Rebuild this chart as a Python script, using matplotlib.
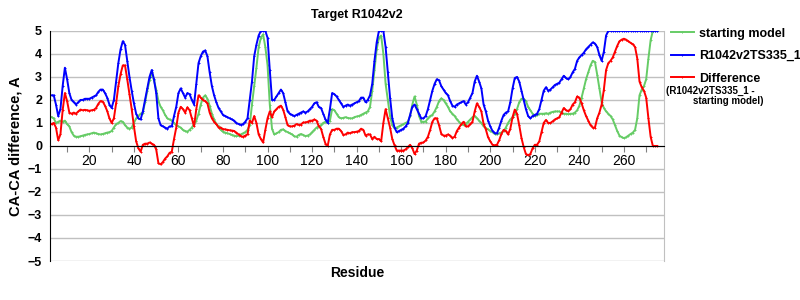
import numpy as np
import matplotlib
matplotlib.use("Agg")
import matplotlib.pyplot as plt

plt.rcParams['font.family'] = ['Liberation Sans', 'DejaVu Sans']

# residues 3..275
first_res = 3
last_res = 275

# R1042v2TS335_1 (capped at 5 A)
model = [
    2.2, 2.2, 1.8, 1.3, 1.6, 2.6, 3.4, 2.9, 2.3, 2.0,        # 3-12
    1.9, 1.8, 1.9, 2.0, 2.0, 2.05, 2.05, 2.05, 2.1, 2.15,    # 13-22
    2.2, 2.35, 2.45, 2.45, 2.3, 2.1, 1.8, 1.65, 2.0, 2.8,    # 23-32
    3.6, 4.2, 4.55, 4.4, 3.7, 3.0, 2.4, 1.85, 1.4, 1.2,      # 33-42
    1.15, 1.5, 2.0, 2.5, 3.0, 3.3, 2.9, 2.3, 1.2, 0.9,       # 43-52
    0.85, 0.8, 0.75, 0.85, 0.85, 1.3, 1.7, 2.3, 2.5, 2.3,    # 53-62
    2.1, 2.3, 2.25, 2.0, 1.8, 2.7, 3.6, 3.9, 4.1, 4.15,      # 63-72
    3.9, 3.2, 2.6, 2.2, 1.9, 1.65, 1.5, 1.35, 1.3, 1.25,     # 73-82
    1.2, 1.15, 1.1, 1.0, 0.95, 0.92, 0.95, 1.05, 1.2, 2.0,   # 83-92
    2.8, 3.9, 4.4, 4.8, 5.0, 5.0, 5.0, 4.7, 3.3, 2.0,        # 93-102
    2.0, 2.15, 2.3, 2.45, 2.3, 1.9, 1.5, 1.4, 1.35, 1.3,     # 103-112
    1.35, 1.4, 1.45, 1.5, 1.45, 1.5, 1.6, 1.7, 1.85, 1.9,    # 113-122
    1.7, 1.65, 1.4, 1.15, 1.0, 1.6, 2.3, 2.25, 2.15, 2.0,    # 123-132
    1.85, 1.7, 1.75, 1.8, 1.75, 1.8, 1.85, 1.9, 1.95, 2.1,   # 133-142
    2.1, 1.9, 2.0, 2.2, 2.7, 3.7, 4.5, 5.0, 5.0, 5.0,        # 143-152
    4.3, 3.2, 2.1, 1.2, 0.8, 0.6, 0.65, 0.7, 0.75, 0.85,     # 153-162
    1.0, 1.35, 1.7, 1.8, 1.6, 1.4, 1.2, 1.2, 1.3, 1.6,       # 163-172
    2.0, 2.4, 2.7, 2.9, 2.85, 2.6, 2.45, 2.3, 2.2, 1.95,     # 173-182
    1.75, 1.7, 1.8, 1.85, 1.9, 1.95, 1.8, 1.9, 2.1, 2.3,     # 183-192
    2.8, 3.05, 2.8, 2.5, 1.8, 1.5, 1.1, 0.85, 0.65, 0.55,    # 193-202
    0.55, 0.8, 1.1, 1.35, 1.45, 1.5, 1.9, 2.5, 2.95, 3.0,    # 203-212
    2.8, 2.4, 2.0, 1.6, 1.3, 1.2, 1.3, 1.35, 1.4, 1.6,       # 213-222
    2.0, 2.4, 2.55, 2.4, 2.45, 2.55, 2.65, 2.7, 2.75, 2.9,   # 223-232
    3.05, 2.95, 2.9, 3.0, 3.2, 3.35, 3.7, 3.85, 3.95, 4.05,  # 233-242
    4.2, 4.3, 4.4, 4.5, 4.45, 4.3, 3.95, 3.7, 4.1, 4.8,      # 243-252
    5.0, 5.0, 5.0, 5.0, 5.0, 5.0, 5.0, 5.0, 5.0, 5.0,        # 253-262
    5.0, 5.0, 5.0, 5.0, 5.0, 5.0, 5.0, 5.0, 5.0, 5.0,        # 263-272
    5.0, 5.0, 5.0,                                           # 273-275
]

# starting model (capped at 5 A)
start = [
    1.25, 1.2, 1.0, 1.05, 1.1, 1.05, 1.1, 0.95, 0.85, 0.6,   # 3-12
    0.45, 0.4, 0.4, 0.42, 0.45, 0.48, 0.5, 0.52, 0.55, 0.58, # 13-22
    0.55, 0.52, 0.5, 0.52, 0.55, 0.58, 0.6, 0.65, 0.8, 0.95, # 23-32
    1.0, 1.08, 1.05, 0.9, 0.8, 0.75, 0.8, 1.0, 1.2, 1.3,     # 33-42
    1.4, 1.45, 1.9, 2.4, 2.85, 3.2, 2.85, 2.45, 1.95, 1.7,   # 43-52
    1.55, 1.35, 1.2, 1.15, 1.1, 1.0, 0.9, 0.85, 0.8, 0.7,    # 53-62
    0.65, 0.62, 0.7, 0.8, 0.95, 1.1, 1.4, 1.8, 2.1, 2.2,     # 63-72
    2.05, 1.75, 1.4, 1.15, 0.95, 0.85, 0.7, 0.62, 0.58, 0.55,  # 73-82
    0.52, 0.48, 0.45, 0.42, 0.45, 0.5, 0.55, 0.6, 0.7, 0.9,  # 83-92
    1.8, 2.6, 3.4, 4.3, 4.7, 4.85, 4.3, 3.5, 1.8, 0.75,      # 93-102
    0.5, 0.55, 0.6, 0.7, 0.72, 0.65, 0.6, 0.55, 0.5, 0.42,   # 103-112
    0.4, 0.48, 0.52, 0.48, 0.43, 0.45, 0.5, 0.6, 0.7, 0.8,   # 113-122
    0.85, 0.9, 1.0, 1.05, 1.0, 1.1, 1.6, 1.55, 1.4, 1.25,    # 123-132
    1.2, 1.22, 1.25, 1.22, 1.2, 1.2, 1.25, 1.28, 1.3, 1.35,  # 133-142
    1.4, 1.45, 1.5, 1.7, 2.4, 3.3, 4.2, 4.7, 4.8, 4.0,       # 143-152
    2.7, 2.0, 1.3, 0.9, 0.77, 0.8, 0.85, 0.9, 0.95, 1.0,     # 153-162
    1.05, 1.3, 1.8, 2.15, 1.8, 1.3, 1.06, 1.05, 1.06, 1.2,   # 163-172
    1.3, 1.35, 1.5, 1.7, 1.95, 2.07, 2.0, 1.85, 1.7, 1.5,    # 173-182
    1.4, 1.3, 1.15, 1.05, 0.95, 0.9, 0.95, 1.05, 1.15, 1.25, # 183-192
    1.3, 1.2, 1.1, 1.0, 0.85, 0.78, 0.72, 0.65, 0.6, 0.52,   # 193-202
    0.5, 0.55, 0.58, 0.65, 0.8, 1.0, 1.15, 1.25, 1.37, 1.6,  # 203-212
    1.9, 2.05, 2.05, 1.95, 1.7, 1.55, 1.4, 1.3, 1.35, 1.4,   # 213-222
    1.4, 1.4, 1.42, 1.4, 1.45, 1.48, 1.5, 1.5, 1.5, 1.45,    # 223-232
    1.4, 1.4, 1.38, 1.4, 1.4, 1.45, 1.55, 1.75, 2.1, 2.5,    # 233-242
    2.9, 3.2, 3.5, 3.7, 3.65, 3.1, 2.5, 1.9, 1.65, 1.5,      # 243-252
    1.4, 1.3, 1.15, 0.9, 0.65, 0.45, 0.38, 0.34, 0.38, 0.45, # 253-262
    0.52, 0.58, 0.7, 1.2, 2.2, 2.45, 2.6, 2.9, 3.8, 4.6,     # 263-272
    5.0, 5.0, 5.0,                                           # 273-275
]

residues = np.arange(first_res, last_res + 1)
model = np.array(model)
start = np.array(start)
diff = model - start

fig = plt.figure(figsize=(8, 3), dpi=100)
ax = fig.add_axes([0.063, 0.13, 0.767, 0.767])

green = '#66cc66'
blue = '#0000ff'
red = '#ff0000'
mk = dict(marker='+', markersize=2, markeredgewidth=0.7)

ax.plot(residues, start, color=green, lw=1.4, label='starting model', **mk)
ax.plot(residues, model, color=blue, lw=1.4, label='R1042v2TS335_1', **mk)
ax.plot(residues, diff, color=red, lw=1.4, label='Difference', **mk)

ax.set_xlim(2.5, 278)
ax.set_ylim(-5, 5)
ax.set_yticks(range(-5, 6))
ax.yaxis.grid(True, color='#c0c0c0', lw=1)
ax.set_axisbelow(True)
ax.tick_params(axis='y', length=0, pad=6, labelsize=9)
for t in ax.get_yticklabels():
    t.set_fontweight('bold')

xt = list(range(10, 278, 10))
ax.set_xticks(xt)
ax.set_xticklabels([str(v) if v % 20 == 0 else '' for v in xt],
                   fontweight='bold', fontsize=9)
ax.tick_params(axis='x', direction='out', length=4, color='#808080', pad=2)

ax.spines['bottom'].set_position(('data', 0))
ax.spines['bottom'].set_color('black')
ax.spines['left'].set_color('black')
ax.spines['top'].set_visible(False)
ax.spines['right'].set_color('#c0c0c0')

ax.set_title('Target R1042v2', fontsize=9, fontweight='bold', pad=9)
ax.set_ylabel('CA-CA difference, A', fontsize=10.5, fontweight='bold', labelpad=4)
fig.text(0.447, 0.09, 'Residue', ha='center', va='center',
         fontsize=10, fontweight='bold')

leg = fig.legend(loc='upper left', bbox_to_anchor=(0.832, 0.925), frameon=False,
                 prop={'weight': 'bold', 'size': 9}, handlelength=1.9,
                 handletextpad=0.4, labelspacing=0.85, borderaxespad=0,
                 numpoints=1)
fig.text(0.833, 0.698, '(R1042v2TS335_1 -', fontsize=7, fontweight='bold',
         va='center')
fig.text(0.866, 0.665, 'starting model)', fontsize=7, fontweight='bold',
         va='center')

fig.savefig('out.png', dpi=100)
